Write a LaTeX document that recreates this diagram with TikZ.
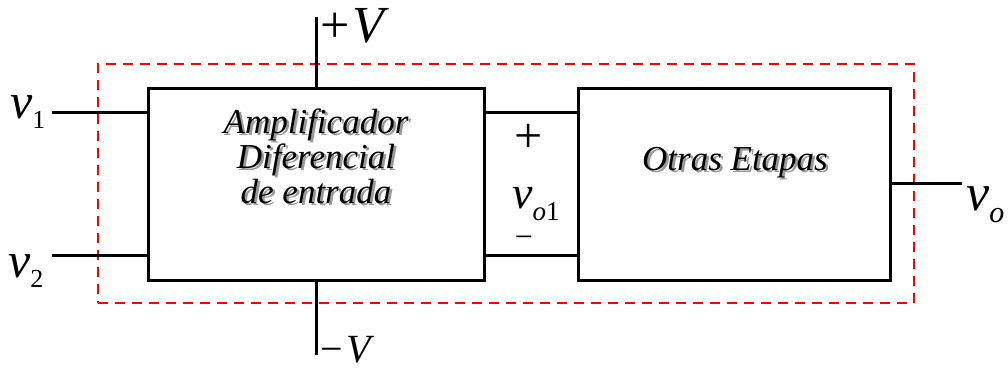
\documentclass[tikz,border=0pt]{standalone}
\usepackage{fontspec}
\setmainfont{Liberation Serif}[Ligatures=NoCommon]
\begin{document}
\begin{tikzpicture}[x=1pt,y=-1pt,
  blk/.style={draw=black, line width=3pt, inner sep=0pt, minimum height=192pt},
  envelope/.style={draw=red, line width=2pt, dash pattern=on 10pt off 7pt, inner sep=0pt},
  wire/.style={draw=black, line width=3pt},
  boxtext/.style={inner sep=0pt, anchor=base, font=\fontsize{35}{35}\selectfont\itshape},
  lbl/.style={inner sep=0pt, anchor=base west},
  shadowcol/.style={text=black!40, xshift=2.5pt, yshift=-2.5pt}
]
\useasboundingbox (0,0) rectangle (1008,369);
\newcommand\shnode[3]{%
  \node[boxtext, shadowcol] at (#2) {#3};
  \node[boxtext] (#1) at (#2) {#3};}
% dashed envelope
\node[envelope, minimum width=816pt, minimum height=239pt] (env) at (506,183.5) {};
% blocks
\node[blk, minimum width=336pt] (amp) at (316,184) {};
\node[blk, minimum width=312pt] (otr) at (734,184) {};
% texts in blocks
\shnode{t1}{316,133}{Amplificador}
\shnode{t2}{316,168}{Diferencial}
\shnode{t3}{316,203}{de entrada}
\shnode{t4}{735,170}{Otras Etapas}
% connection points
\coordinate (in1) at (52,112);
\coordinate (in2) at (52,255);
\coordinate (vp) at (316,17);
\coordinate (vn) at (316,355);
\coordinate (out) at (962,183);
\draw[wire] (in1) -- (in1 -| amp.west);
\draw[wire] (in2) -- (in2 -| amp.west);
\draw[wire] (vp) -- (amp.north);
\draw[wire] (amp.south) -- (vn);
\draw[wire] (amp.east |- in1) -- (otr.west |- in1);
\draw[wire] (amp.east |- in2) -- (otr.west |- in2);
\draw[wire] (otr.east |- out) -- (out);
% labels
\node[lbl] (lv1) at (10,118) {\fontsize{50}{50}\selectfont\itshape v\raisebox{-10pt}{\fontsize{26}{26}\selectfont\upshape 1}};
\node[lbl] (lv2) at (8,277) {\fontsize{50}{50}\selectfont\itshape v\raisebox{-10pt}{\fontsize{26}{26}\selectfont\upshape 2}};
\node[lbl] (lvp) at (320,43) {\fontsize{52}{52}\selectfont +\kern3pt\itshape V};
\node[lbl, text depth=0pt] (lvn) at (320,362) {\fontsize{40}{40}\selectfont −\kern4pt\itshape V};
\node[lbl] (lvo) at (966,210) {\fontsize{52}{52}\selectfont\itshape v\raisebox{-12pt}{\fontsize{30}{30}\selectfont o}};
\node[lbl] (lvo1) at (512,208) {\fontsize{46}{46}\selectfont\itshape v\raisebox{-12pt}{\fontsize{27}{27}\selectfont o\upshape 1}};
\node[inner sep=0pt] (lplus) at (529,138) {\fontsize{50}{50}\selectfont +};
\node[inner sep=0pt] (lminus) at (524,242) {\fontsize{32}{32}\selectfont −};
\end{tikzpicture}
\end{document}
